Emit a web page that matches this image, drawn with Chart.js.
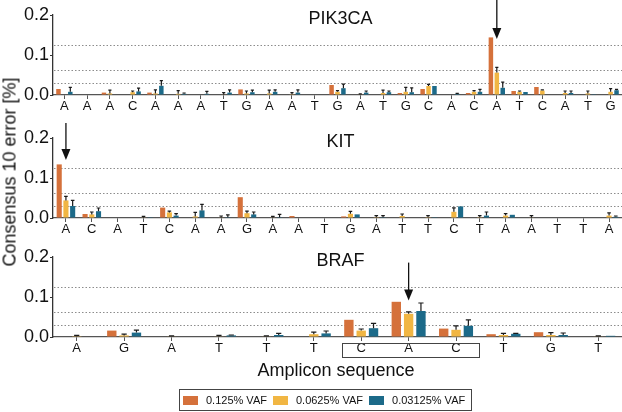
<!DOCTYPE html>
<html>
<head>
<meta charset="utf-8">
<script src="https://cdn.jsdelivr.net/npm/chart.js@4"></script>
<style>
  body { margin: 0; background: #fff; }
  #wrap { position: relative; width: 622px; height: 412px; font-family: "Liberation Sans", Arial, sans-serif; color: #111; overflow: hidden; }
  canvas { position: absolute; left: 0; }
  #ylab { position: absolute; left: 10px; top: 172px; transform: translate(-50%, -50%) rotate(-90deg); font-size: 18px; white-space: nowrap; }
  #xlab { position: absolute; left: 336px; top: 370px; transform: translate(-50%, -50%); font-size: 18px; white-space: nowrap; }
  #legend { position: absolute; left: 179px; top: 389px; width: 291px; height: 20px; border: 1px solid #444; display: flex; align-items: center; font-size: 11px; }
  .sw { width: 15px; height: 9px; margin: 0 8px 0 6px; }
  .sw.first { margin-left: 3px; }
</style>
</head>
<body>
<div id="wrap">
  <canvas id="pik3ca" width="622" height="115" style="top:0px"></canvas>
  <canvas id="kit" width="622" height="115" style="top:123px"></canvas>
  <canvas id="braf" width="622" height="125" style="top:242px"></canvas>
  <div id="ylab">Consensus 10 error [%]</div>
  <div id="xlab">Amplicon sequence</div>
  <div id="legend"></div>
</div>
<script>
// ========== DATA ==========
const vafNames = ["0.125% VAF", "0.0625% VAF", "0.03125% VAF"];
const vafColors = ["#d5713b", "#f1b643", "#1c6a89"];
const dottedLevels = [0.125, 0.0625, 0.03125]; // dotted reference lines
const yTicks = [0, 0.1, 0.2];

// PIK3CA
const pik3caLabels = ["A","A","A","C","A","A","A","T","G","A","A","T","G","A","T","G","C","A","C","A","T","C","A","T","G"];
const pik3caVaf125   = [0.015,0,0.006,0,0.006,0,0,0,0.014,0,0,0,0.025,0,0,0.005,0.015,0,0.005,0.144,0.010,0.020,0,0,0];
const pik3caVaf0625  = [0,0,0.004,0.007,0.004,0.003,0,0.001,0.004,0.004,0.002,0,0.008,0.001,0.005,0.008,0.0225,0,0.008,0.056,0.008,0.011,0.005,0.004,0.008];
const pik3caVaf03125 = [0.008,0,0,0.009,0.023,0.003,0.003,0.006,0.007,0.008,0.006,0,0.017,0.006,0.007,0.007,0.0225,0.003,0.008,0.018,0.0075,0,0.005,0.002,0.012];
const pik3caErr125   = [0,0,0,0,0,0,0,0,0,0,0,0,0,0,0,0,0,0,0,0,0,0,0,0,0];
const pik3caErr0625  = [0,0,0.008,0.003,0.009,0.008,0,0.005,0.006,0.008,0.004,0,0.003,0.002,0.007,0.011,0.004,0,0.003,0.013,0.002,0.002,0.005,0.006,0.008];
const pik3caErr03125 = [0.011,0,0,0.008,0.013,0.002,0.006,0.007,0.005,0.005,0.007,0,0.010,0.004,0.003,0.011,0,0.001,0.006,0.014,0,0,0.005,0,0.002];

// KIT
const kitLabels = ["A","C","A","T","C","A","A","G","A","A","T","G","A","T","T","C","T","A","A","T","T","A"];
const kitVaf125   = [0.134,0.010,0,0,0.026,0,0,0.052,0,0.005,0,0.004,0,0,0,0,0,0,0,0,0,0];
const kitVaf0625  = [0.044,0.009,0,0.001,0.014,0.004,0.001,0.012,0.001,0,0,0.0105,0.002,0.005,0.002,0.0155,0.002,0.006,0.001,0,0,0.006];
const kitVaf03125 = [0.030,0.017,0,0.002,0.006,0.019,0.002,0.009,0.002,0,0,0.009,0.002,0,0.002,0.029,0.006,0.008,0,0,0,0.003];
const kitErr125   = [0,0,0,0,0,0,0,0,0,0,0,0,0,0,0,0,0,0,0,0,0,0];
const kitErr0625  = [0.010,0.006,0,0.003,0.003,0.010,0.004,0.005,0.003,0,0,0.006,0.004,0.005,0.004,0.010,0.004,0.005,0.005,0,0,0.007];
const kitErr03125 = [0.014,0.008,0,0,0.005,0.015,0.006,0.006,0.007,0,0,0,0.004,0,0,0,0.009,0,0,0,0,0.002];

// BRAF
const brafLabels = ["A","G","A","T","T","T","C","A","C","T","G","T"];
const brafVaf125   = [0,0.016,0,0,0,0,0.043,0.088,0.021,0.007,0.012,0];
const brafVaf0625  = [0.002,0.004,0.001,0.001,0.001,0.007,0.016,0.058,0.018,0.005,0.005,0.001];
const brafVaf03125 = [0,0.011,0,0.004,0.005,0.009,0.022,0.065,0.028,0.008,0.005,0.003];
const brafErr125   = [0,0,0,0,0,0,0,0,0,0,0,0];
const brafErr0625  = [0.002,0.003,0.002,0.003,0.002,0.005,0.004,0.005,0.010,0.004,0.006,0.002];
const brafErr03125 = [0,0.006,0,0.001,0.004,0.006,0.012,0.020,0.015,0.001,0.005,0];

// arrows: category index, from value, to value (tip)
const pik3caArrow = [19, 0.2375, 0.140];
const kitArrow = [0, 0.2375, 0.145];
const brafArrow = [7, 0.186, 0.091];
const brafBoxed = [6, 8]; // boxed codon

const FONT = '"Liberation Sans", Arial, sans-serif';

function makePanel(id, name, labels, series, errors, arrow, boxed, xHeight) {
    const extras = {
        id: "extras",
        beforeDatasetsDraw(chart) {
            const { ctx, chartArea: a, scales: { y } } = chart;
            ctx.save();
            ctx.strokeStyle = "#8c8c8c";
            ctx.lineWidth = 1;
            ctx.setLineDash([1.5, 2]);
            dottedLevels.forEach(v => {
                const py = Math.round(y.getPixelForValue(v)) + 0.5;
                ctx.beginPath();
                ctx.moveTo(a.left + 1, py);
                ctx.lineTo(a.right, py);
                ctx.stroke();
            });
            ctx.restore();
        },
        afterDatasetsDraw(chart) {
            const { ctx, chartArea: a, scales: { x, y } } = chart;
            ctx.save();
            // error bars
            ctx.strokeStyle = "#1a1a1a";
            ctx.lineWidth = 1.2;
            chart.data.datasets.forEach((ds, i) => {
                chart.getDatasetMeta(i).data.forEach((bar, j) => {
                    const e = errors[i][j];
                    if (!e) return;
                    const top = y.getPixelForValue(ds.data[j] + e);
                    const cap = Math.min(bar.width * 0.35, 2.6);
                    ctx.beginPath();
                    ctx.moveTo(bar.x, bar.y);
                    ctx.lineTo(bar.x, top);
                    ctx.moveTo(bar.x - cap, top);
                    ctx.lineTo(bar.x + cap, top);
                    ctx.stroke();
                });
            });
            // panel title
            ctx.fillStyle = "#111";
            ctx.font = "18px " + FONT;
            ctx.textAlign = "center";
            ctx.textBaseline = "middle";
            ctx.fillText(name, (a.left + a.right) / 2 + 3, a.top + 4.5);
            // arrow
            if (arrow) {
                const ax = x.getPixelForValue(arrow[0]);
                const y0 = y.getPixelForValue(arrow[1]);
                const y1 = y.getPixelForValue(arrow[2]);
                ctx.strokeStyle = "#111";
                ctx.lineWidth = 1.3;
                ctx.beginPath();
                ctx.moveTo(ax, y0);
                ctx.lineTo(ax, y1 - 9);
                ctx.stroke();
                ctx.fillStyle = "#111";
                ctx.beginPath();
                ctx.moveTo(ax - 4.5, y1 - 11);
                ctx.lineTo(ax + 4.5, y1 - 11);
                ctx.lineTo(ax, y1);
                ctx.closePath();
                ctx.fill();
            }
            // box around codon labels
            if (boxed) {
                const w = x.getPixelForValue(1) - x.getPixelForValue(0);
                const bx0 = Math.round(x.getPixelForValue(boxed[0]) - 0.41 * w) + 0.5;
                const bx1 = Math.round(x.getPixelForValue(boxed[1]) + 0.49 * w) + 0.5;
                ctx.strokeStyle = "#444";
                ctx.lineWidth = 1;
                ctx.strokeRect(bx0, Math.round(a.bottom) + 6.5, bx1 - bx0, 14);
            }
            ctx.restore();
        }
    };

    return new Chart(document.getElementById(id).getContext("2d"), {
        type: "bar",
        data: {
            labels: labels,
            datasets: series.map((d, i) => ({
                label: vafNames[i],
                data: d,
                backgroundColor: vafColors[i],
                borderWidth: 0,
                categoryPercentage: 0.78,
                barPercentage: 0.76
            }))
        },
        options: {
            responsive: false,
            animation: false,
            layout: { padding: { top: 15, left: 0, right: 0, bottom: 0 } },
            plugins: { legend: { display: false }, tooltip: { enabled: false } },
            scales: {
                x: {
                    grid: { display: true, drawOnChartArea: false, offset: false, tickLength: 4, color: "#555", lineWidth: 1 },
                    border: { color: "#555", width: 1.3 },
                    ticks: { color: "#111", font: { family: FONT, size: 13 }, padding: 0, autoSkip: false, maxRotation: 0 },
                    afterFit: s => { s.height = xHeight; }
                },
                y: {
                    min: 0,
                    max: 0.2,
                    afterBuildTicks: s => { s.ticks = yTicks.map(v => ({ value: v })); },
                    grid: { drawOnChartArea: false, tickLength: 3, color: "#333" },
                    border: { color: "#333", width: 1.3 },
                    ticks: { color: "#111", font: { family: FONT, size: 18 }, padding: 1, callback: v => v.toFixed(1) },
                    afterFit: s => { s.width = 53; }
                }
            }
        },
        plugins: [extras]
    });
}

makePanel("pik3ca", "PIK3CA", pik3caLabels,
    [pik3caVaf125, pik3caVaf0625, pik3caVaf03125],
    [pik3caErr125, pik3caErr0625, pik3caErr03125], pik3caArrow, null, 20);
makePanel("kit", "KIT", kitLabels,
    [kitVaf125, kitVaf0625, kitVaf03125],
    [kitErr125, kitErr0625, kitErr03125], kitArrow, null, 20);
makePanel("braf", "BRAF", brafLabels,
    [brafVaf125, brafVaf0625, brafVaf03125],
    [brafErr125, brafErr0625, brafErr03125], brafArrow, brafBoxed, 30);

// legend
const legend = document.getElementById("legend");
vafNames.forEach((n, i) => {
    const sw = document.createElement("span");
    sw.className = "sw" + (i === 0 ? " first" : "");
    sw.style.background = vafColors[i];
    legend.appendChild(sw);
    const t = document.createElement("span");
    t.textContent = n;
    legend.appendChild(t);
});
</script>
</body>
</html>
